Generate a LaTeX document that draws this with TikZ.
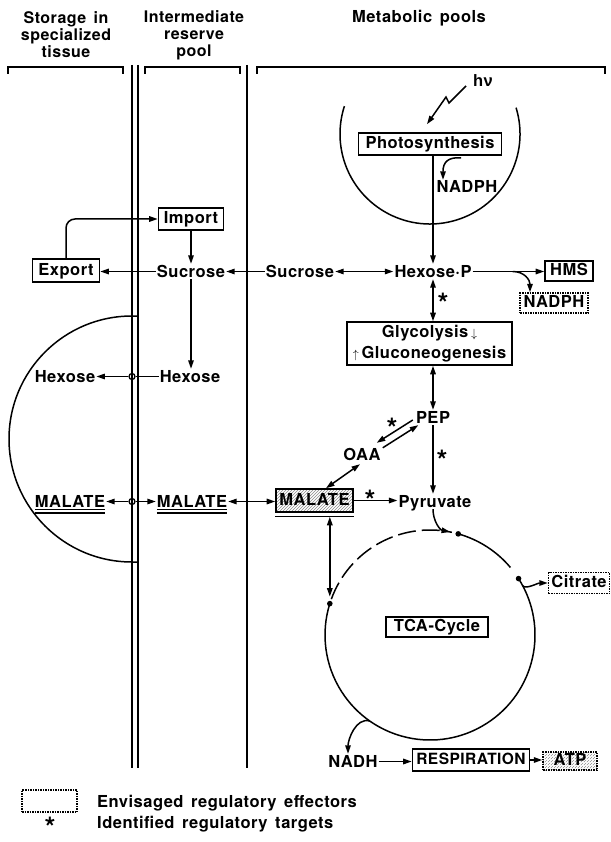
\documentclass[tikz,border=0pt]{standalone}
\usepackage{fontspec}
\setmainfont{TeX Gyre Heros}[LetterSpace=3,WordSpace=1.5]
\newfontfamily\greekfont{Liberation Sans}[LetterSpace=3]
\usetikzlibrary{arrows.meta,patterns,calc}
\begin{document}
\begin{tikzpicture}[x=1pt,y=-1pt,
  every node/.style={font=\fontsize{16.5}{20}\selectfont\bfseries},
  lbl/.style={anchor=base, inner sep=1pt, text height=12pt, text depth=1pt},
  box/.style={draw, line width=1.6pt, inner sep=0pt, text height=12pt, text depth=3pt},
  gbox/.style={draw, line width=1.6pt, inner sep=0pt, align=center, font=\fontsize{16.5}{21}\selectfont\bfseries},
  eff/.style={draw, line width=1.5pt, dash pattern=on 1.5pt off 1pt, inner sep=0pt, text height=12pt, text depth=3pt},
  hatch/.style={pattern=north east lines, pattern color=black!45},
  ln/.style={line width=1.5pt},
  arr/.style={ln, -{Triangle[length=8.5pt,width=5.5pt]}},
  darr/.style={ln, {Triangle[length=8.5pt,width=5.5pt]}-{Triangle[length=8.5pt,width=5.5pt]}},
  star/.style={anchor=base, inner sep=0pt, font=\fontsize{28}{28}\selectfont\bfseries},
  jc/.style={circle, draw, line width=1.3pt, minimum size=6pt, inner sep=0pt},
  hdr/.style={align=center, inner sep=0pt, font=\fontsize{16}{17}\selectfont\bfseries},
  mem/.style={line width=1.7pt}
]
\useasboundingbox (0,0) rectangle (610,842);

% headers
\node[hdr] (hS) at (66,35) {Storage in\\specialized\\tissue};
\node[hdr] (hI) at (194,35) {Intermediate\\reserve\\pool};
\node[lbl] (hM) at (419,23) {Metabolic pools};

% brackets
\draw[ln] (8,74) -- (8,67) -- (123,67) -- (123,74);
\draw[ln] (145,74) -- (145,67) -- (240,67) -- (240,74);
\draw[ln] (257,74) -- (257,67) -- (605,67) -- (605,74);

% membranes
\draw[mem] (132,65) -- (132,768);
\draw[mem] (138,65) -- (138,768);
\draw[mem] (247,65) -- (247,768);

% storage compartment
\draw[ln] (138,316) -- (132,316) arc[start angle=-90, end angle=-270, radius=123] -- (138,562);

% chloroplast
\draw[ln] ($(430,134)+(-17:90)$) arc[start angle=-17, end angle=198, radius=90];

% nodes
\node[box, minimum width=143pt, minimum height=22pt] (photo) at (430,144) {Photosynthesis};
\node[lbl] (hv) at (483,87) {\greekfont hν};
\node[lbl] (nadA) at (467,193) {NADPH};
\node[box, minimum width=65pt, minimum height=22pt] (import) at (191,219) {Import};
\node[box, minimum width=67pt, minimum height=23pt] (export) at (66,270.5) {Export};
\node[lbl] (sucI) at (191,277) {Sucrose};
\node[lbl] (sucM) at (300,277) {Sucrose};
\node[lbl] (hexP) at (433,277) {Hexose·P};
\node[box, minimum width=48pt, minimum height=20pt] (hms) at (569,271) {HMS};
\node[eff, minimum width=68pt, minimum height=20pt] (nadB) at (554,303) {NADPH};
\node[gbox, minimum width=165pt, minimum height=43pt] (glyc) at (429.5,343.5)
  {Glycolysis\,{\fontsize{12}{12}\selectfont$\downarrow$}\\{\fontsize{12}{12}\selectfont$\uparrow$}\,Gluconeogenesis};
\node[lbl] (pep) at (433,423) {PEP};
\node[lbl] (oaa) at (362,460) {OAA};
\node[lbl] (hexI) at (190,382) {Hexose};
\node[lbl] (hexS) at (65,382) {Hexose};
\node[lbl] (malS) at (70,507) {MALATE};
\node[lbl] (malI) at (192,507) {MALATE};
\node[box, hatch, minimum width=77pt, minimum height=23pt] (malM) at (314.5,500.5) {MALATE};
\node[lbl] (pyr) at (435,507) {Pyruvate};
\node[box, minimum width=102pt, minimum height=20pt] (tca) at (437,627) {TCA-Cycle};
\node[eff, minimum width=61pt, minimum height=21pt] (cit) at (579,583) {Citrate};
\node[lbl] (nadh) at (353,767) {NADH};
\node[box, minimum width=117pt, minimum height=22pt, font=\fontsize{15.5}{18}\selectfont\bfseries] (resp) at (471,760) {RESPIRATION};
\node[eff, hatch, minimum width=54pt, minimum height=18pt] (atp) at (570,761) {ATP};

% junctions on the membrane
\node[jc] (j1) at (132,376.5) {};
\node[jc] (j2) at (132,501.5) {};

% legend
\node[eff, minimum width=55pt, minimum height=22pt] (leg) at (49.5,801) {};
\node[lbl, anchor=base west] (legA) at (96,807) {Envisaged regulatory effectors};
\node[star] (stL) at (50,837.5) {*};
\node[lbl, anchor=base west] (legB) at (96,828) {Identified regulatory targets};

% stars
\node[star] (s1) at (443,313.5) {*};
\node[star] (s2) at (370,510.5) {*};
\node[star] (s3) at (442,470.5) {*};
\node[star] (s4) at (392,438.5) {*};

% underlines
\draw[line width=1.2pt] ($(malS.base west)+(1,2.5)$) -- ($(malS.base east)+(-1,2.5)$);
\draw[line width=1.2pt] ($(malS.base west)+(1,6)$) -- ($(malS.base east)+(-1,6)$);
\draw[line width=1.2pt] ($(malI.base west)+(1,2.5)$) -- ($(malI.base east)+(-1,2.5)$);
\draw[line width=1.2pt] ($(malI.base west)+(1,6)$) -- ($(malI.base east)+(-1,6)$);
\draw[line width=1.2pt] ($(malM.south west)+(0,3.5)$) -- ($(malM.south east)+(0,3.5)$);

% connectors top
\coordinate (hvs) at (466,86);
\draw[arr] (hvs) -- (449,103) -- (446,97) -- ($(photo.north)+(-3,-8)$);
\draw[arr] ($(photo.south)+(31,2)$) .. controls (448,157) and (443,162) .. ($(nadA.north)+(-24,0)$);
\draw[arr] (photo.south -| hexP.north) -- (hexP.north);
\draw[arr] (hexP.east) -- (hexP.east -| hms.west);
\coordinate (br) at ($(hexP.east)+(40,0)$);
\draw[arr] (br) .. controls ($(br)+(12,0)$) and ($(nadB.north)+(-24,-12)$) .. ($(nadB.north)+(-24,0)$);
\draw[darr] (sucM.east) -- (hexP.west);
\draw[arr] (sucM.west) -- (sucI.east);
\draw[arr] (sucI.west) -- (sucI.west -| export.east);
\draw[arr, rounded corners=9pt] (export.north) |- (import.west);
\draw[arr] (import.south) -- (sucI.north);
\draw[arr] (sucI.south) -- (sucI.south |- hexI.north);
\draw[ln] (hexI.west) -- (j1);
\draw[arr] (j1) -- (hexS.east);
\draw[arr] (j2) -- (malS.east);
\draw[arr] (j2) -- (malI.west);
\draw[darr] (malI.east) -- (malI.east -| malM.west);

% glycolysis axis
\draw[darr] (hexP.south) -- (hexP.south |- glyc.north);
\draw[darr] (glyc.south -| pep.north) -- (pep.north);
\draw[arr] (pep.south) -- (pep.south |- pyr.north);
\draw[arr] ($(pep.west)+(-2,2.5)$) -- ($(oaa.north east)+(-5,-4)$);
\draw[arr] ($(oaa.north east)+(1,1)$) -- ($(pep.south west)+(3.5,0)$);
\draw[darr] ($(oaa.south)+(-2,2)$) -- ($(malM.north)+(11.5,0)$);
\draw[arr] (malM.east) -- (malM.east -| pyr.west);

% TCA cycle
\coordinate (tcac) at (430,635);
\draw[ln] ($(tcac)+(-32.5:105)$) arc[start angle=-32.5, end angle=197.4, radius=105];
\draw[ln] ($(tcac)+(-74.4:105)$) arc[start angle=-74.4, end angle=-40, radius=105];
\draw[ln, dash pattern=on 18pt off 6pt] ($(tcac)+(200:105)$) arc[start angle=200, end angle=282, radius=105];
\fill ($(tcac)+(197.4:105)$) circle[radius=2.8];
\fill ($(tcac)+(-74.4:105)$) circle[radius=2.8];
\fill ($(tcac)+(-32.5:105)$) circle[radius=2.8];
\coordinate (tL) at ($(tcac)+(197.4:105)$);
\draw[darr] ($(malM.south -| tL)+(0,4)$) -- ($(tL)+(0,-7)$);
\draw[arr] ($(pyr.south)+(-2,0)$) .. controls +(0,12) and +(-10,-2) .. ($(tcac)+(-79:105)$);
\draw[arr] ($(tcac)+(-28:105)$) .. controls +(3,4) and +(-10,0) .. (cit.west);
\draw[arr] ($(tcac)+(125:105)$) .. controls +(-14,-4) and +(0,-14) .. ($(nadh.north)+(-5,0)$);
\draw[arr] (nadh.east) -- (nadh.east -| resp.west);
\draw[arr] (resp.east) -- (resp.east -| atp.west);
\end{tikzpicture}
\end{document}
